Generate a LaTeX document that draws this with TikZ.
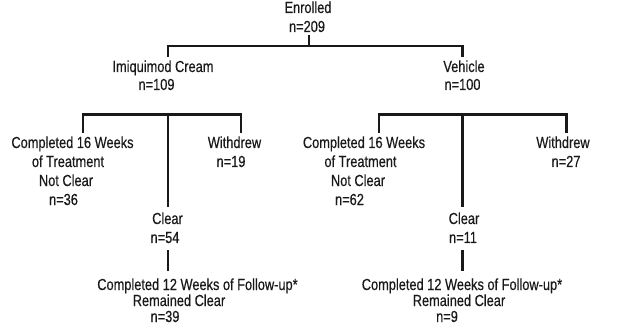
\documentclass[tikz,border=0pt]{standalone}
\usepackage{fontspec}
\setmainfont[FakeStretch=0.8,FakeBold=0.4]{Liberation Sans}
\usepackage{tikz}
\usetikzlibrary{positioning}

\begin{document}
\begin{tikzpicture}[x=1pt,y=-1pt,
	lbl/.style={anchor=base,inner sep=0pt,text=black!90,font=\fontsize{16}{19}\selectfont},
	tree/.style={line width=2.5pt,black!90}]
		\useasboundingbox (0,0) rectangle (633,329);
		% top level
		\node[lbl] (enr) at (308,13) {Enrolled};
		\node[lbl] (enrN) at (307,32) {n=209};
		\node[lbl] (imq) at (163,72) {Imiquimod Cream};
		\node[lbl] (imqN) at (156.5,90) {n=109};
		\node[lbl] (veh) at (464,72) {Vehicle};
		\node[lbl] (vehN) at (462.5,90) {n=100};
		% imiquimod arm
		\node[lbl] (lcA) at (72.5,148) {Completed 16 Weeks};
		\node[lbl] (lcB) at (68,167) {of Treatment};
		\node[lbl] (lcC) at (66,186) {Not Clear};
		\node[lbl] (lcD) at (63.5,205) {n=36};
		\node[lbl] (lwA) at (234.5,148) {Withdrew};
		\node[lbl] (lwB) at (231,167) {n=19};
		\node[lbl] (lclA) at (167.5,224) {Clear};
		\node[lbl] (lclB) at (165,243) {n=54};
		\node[lbl] (lfA) at (197.5,290) {Completed 12 Weeks of Follow-up*};
		\node[lbl] (lfB) at (179,306) {Remained Clear};
		\node[lbl] (lfC) at (165,322) {n=39};
		% vehicle arm
		\node[lbl] (rcA) at (364,148) {Completed 16 Weeks};
		\node[lbl] (rcB) at (360.5,167) {of Treatment};
		\node[lbl] (rcC) at (358,186) {Not Clear};
		\node[lbl] (rcD) at (349.5,205) {n=62};
		\node[lbl] (rwA) at (563,148) {Withdrew};
		\node[lbl] (rwB) at (566,167) {n=27};
		\node[lbl] (rclA) at (464,224) {Clear};
		\node[lbl] (rclB) at (463,243) {n=11};
		\node[lbl] (rfA) at (462,290) {Completed 12 Weeks of Follow-up*};
		\node[lbl] (rfB) at (459,306) {Remained Clear};
		\node[lbl] (rfC) at (447,322) {n=9};
		% tree junctions
		\coordinate (root) at (309,35);
		\coordinate (rootj) at (309,46);
		\coordinate (imqtop) at (168,57);
		\coordinate (vehtop) at (462.5,57);
		\coordinate (ljn) at (168,114.5);
		\coordinate (lct) at (83,133);
		\coordinate (lwd) at (241,133);
		\coordinate (lcl) at (168,207);
		\coordinate (lfu) at (168,250);
		\coordinate (lfd) at (168,271);
		\coordinate (rjn) at (462.5,114.5);
		\coordinate (rct) at (379,133);
		\coordinate (rwd) at (566.7,133);
		\coordinate (rcl) at (462.5,207);
		\coordinate (rfu) at (462.5,250);
		\coordinate (rfd) at (462.5,271);
		\draw[tree] (root) -- (rootj);
		\draw[tree] (imqtop) |- (rootj) -| (vehtop);
		\draw[tree] (lct) |- (ljn) -| (lwd);
		\draw[tree] (ljn) -- (lcl);
		\draw[tree] (lfu) -- (lfd);
		\draw[tree] (rct) |- (rjn) -| (rwd);
		\draw[tree] (rjn) -- (rcl);
		\draw[tree] (rfu) -- (rfd);
	\end{tikzpicture}
\end{document}
